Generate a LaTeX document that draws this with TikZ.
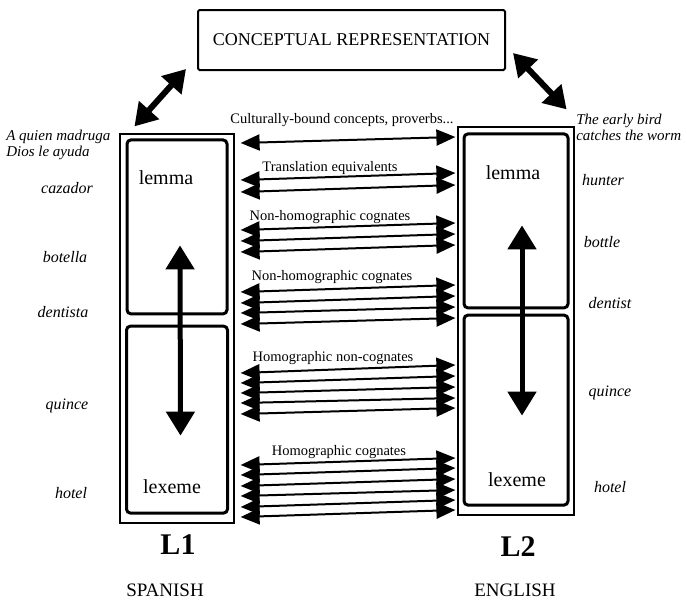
\documentclass[tikz,border=0pt]{standalone}
\usepackage{fontspec}
\setmainfont{Liberation Serif}
\usetikzlibrary{arrows.meta, positioning}

\begin{document}
\begin{tikzpicture}[x=1pt, y=-1pt, >={Triangle[length=19pt, width=16pt]},
                    semithick]
\tikzstyle{inbox}=[draw=black, line width=3pt, rounded corners=4pt, inner sep=0pt]
\tikzstyle{outbox}=[draw=black, line width=1.2pt, inner sep=0pt]
\tikzstyle{word}=[font=\fontsize{16}{18}\selectfont\itshape, inner sep=0pt]
\tikzstyle{proverb}=[font=\fontsize{15}{16}\selectfont\itshape, inner sep=0pt, align=left]
\tikzstyle{kind}=[font=\fontsize{14.5}{16}\selectfont, inner sep=0pt]
\tikzstyle{level}=[font=\fontsize{20}{22}\selectfont, inner sep=0pt]
\tikzstyle{link}=[<->, line width=2pt]
\tikzstyle{bigarrow}=[{Triangle[length=22pt, width=26pt]}-{Triangle[length=22pt, width=26pt]}, line width=6pt]
\tikzstyle{updown}=[{Triangle[length=24pt, width=28pt]}-{Triangle[length=24pt, width=28pt]}, line width=5pt]
  \useasboundingbox (0,0) rectangle (687,600);
  \node[draw=black, line width=2pt, rounded corners=1.5pt, minimum width=307pt,
        minimum height=60pt, font=\fontsize{18}{20}\selectfont] (concept) at (351.5,40) {CONCEPTUAL REPRESENTATION};
  % Spanish side
  \node[outbox, minimum width=114pt, minimum height=389pt] (l1outer) at (177,328.5) {};
  \node[inbox, minimum width=100pt, minimum height=174pt] (l1lemma) [below=5pt of l1outer.north] {};
  \node[inbox, minimum width=101pt, minimum height=187pt] (l1lexeme) [above=9pt of l1outer.south] {};
  \node[level] (l1lemtxt) at (166,178) {lemma};
  \node[level] (l1lextxt) at (172,487) {lexeme};
  % English side
  \node[outbox, minimum width=116pt, minimum height=388pt] (l2outer) at (516,321) {};
  \node[inbox, minimum width=104pt, minimum height=174pt] (l2lemma) [below=6pt of l2outer.north] {};
  \node[inbox, minimum width=104pt, minimum height=190pt] (l2lexeme) [above=9pt of l2outer.south] {};
  \node[level] (l2lemtxt) at (513,173) {lemma};
  \node[level] (l2lextxt) at (517,480) {lexeme};
  % L1 / L2 and languages
  \node[font=\fontsize{30}{32}\selectfont\bfseries, inner sep=0pt] (l1) at (178,545) {L1};
  \node[font=\fontsize{30}{32}\selectfont\bfseries, inner sep=0pt] (l2) at (518,547) {L2};
  \node[font=\fontsize{19}{21}\selectfont, inner sep=0pt] (spanish) at (165,590) {SPANISH};
  \node[font=\fontsize{19}{21}\selectfont, inner sep=0pt] (english) at (515,590) {ENGLISH};
  % word examples
  \node[proverb, anchor=west] (esprov) at (6,145) {A quien madruga\\Dios le ayuda};
  \node[word] (cazador)  at (67,188) {cazador};
  \node[word] (botella)  at (65,257) {botella};
  \node[word] (dentista) at (63,312) {dentista};
  \node[word] (esquince) at (67,406) {quince};
  \node[word] (eshotel)  at (71,493) {hotel};
  \node[proverb, anchor=west] (enprov) at (576,127) {The early bird\\catches the worm};
  \node[word] (hunter)   at (603,180) {hunter};
  \node[word] (bottle)   at (602,242) {bottle};
  \node[word] (dentist)  at (610,303) {dentist};
  \node[word] (enquince) at (610,393) {quince};
  \node[word] (enhotel)  at (610,487) {hotel};
  % kinds of links
  \node[kind] (cultural) at (342,120) {Culturally-bound concepts, proverbs...};
  \node[kind] (transl)   at (330,168) {Translation equivalents};
  \node[kind] (nonhomA)  at (330,217) {Non-homographic cognates};
  \node[kind] (nonhomB)  at (332,277) {Non-homographic cognates};
  \node[kind] (homnon)   at (333,358) {Homographic non-cognates};
  \node[kind] (homcog)   at (339,452) {Homographic cognates};
  % links to the concepts
  \draw[bigarrow] ([shift={(-11,-2)}]concept.south west) -- ([shift={(15,-7)}]l1outer.north west);
  \draw[bigarrow] ([shift={(7,-18)}]concept.south east) -- ([shift={(-8,-17)}]l2outer.north east);
  % lemma <-> lexeme
  \draw[updown] ([shift={(3,-70)}]l1lemma.south) -- ([shift={(3.5,111)}]l1lexeme.north);
  \draw[updown] ([shift={(6,-84)}]l2lemma.south) -- ([shift={(6,102)}]l2lexeme.north);
  % links between the languages
  \coordinate (lt) at ([xshift=6pt]l1outer.east);
  \coordinate (rt) at ([xshift=-2pt]l2outer.west);
  \draw[link] (lt |- 0,143) -- (rt |- 0,137);
  \draw[link] (lt |- 0,180) -- (rt |- 0,173);
  \draw[link] (lt |- 0,192) -- (rt |- 0,185);
  \draw[link] (lt |- 0,230) -- (rt |- 0,223);
  \draw[link] (lt |- 0,241) -- (rt |- 0,234);
  \draw[link] (lt |- 0,252) -- (rt |- 0,245);
  \draw[link] (lt |- 0,292) -- (rt |- 0,285);
  \draw[link] (lt |- 0,303) -- (rt |- 0,296);
  \draw[link] (lt |- 0,313) -- (rt |- 0,307);
  \draw[link] (lt |- 0,324) -- (rt |- 0,318);
  \draw[link] (lt |- 0,373) -- (rt |- 0,365);
  \draw[link] (lt |- 0,383) -- (rt |- 0,376);
  \draw[link] (lt |- 0,393) -- (rt |- 0,387);
  \draw[link] (lt |- 0,403) -- (rt |- 0,398);
  \draw[link] (lt |- 0,414) -- (rt |- 0,408);
  \draw[link] (lt |- 0,465) -- (rt |- 0,458);
  \draw[link] (lt |- 0,475) -- (rt |- 0,468);
  \draw[link] (lt |- 0,486) -- (rt |- 0,479);
  \draw[link] (lt |- 0,496) -- (rt |- 0,490);
  \draw[link] (lt |- 0,507) -- (rt |- 0,500);
  \draw[link] (lt |- 0,517) -- (rt |- 0,510);
\end{tikzpicture}
\end{document}
